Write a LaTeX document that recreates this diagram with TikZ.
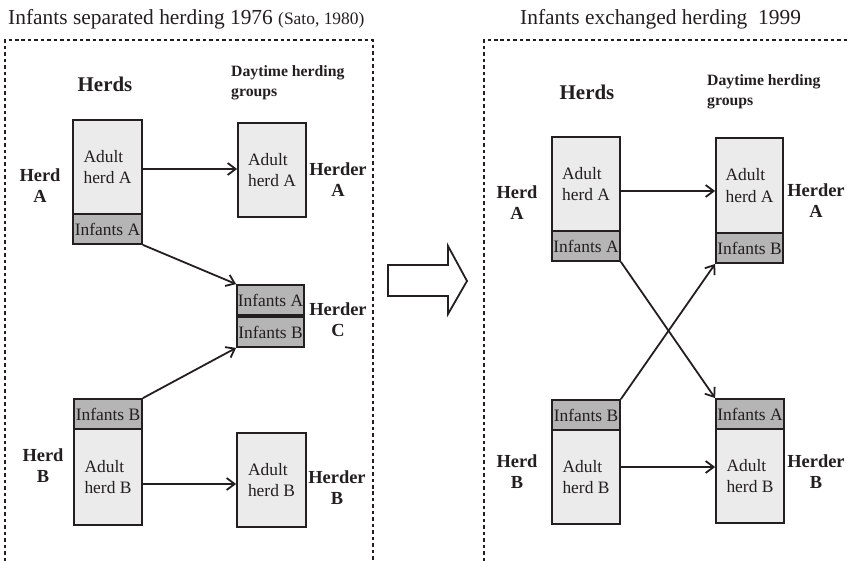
\documentclass[tikz,border=0pt]{standalone}
\usepackage{fontspec}
\setmainfont{Liberation Serif}
\usetikzlibrary{arrows.meta}
\definecolor{ink}{HTML}{231F20}
\definecolor{adultfill}{HTML}{EBEBEB}
\definecolor{infantfill}{HTML}{B5B5B5}
\tikzset{
  box/.style={draw=ink, line width=1.8pt, inner sep=0pt, font=\fontsize{17.5}{21.5}\selectfont, text=ink, align=left},
  adult/.style={box, fill=adultfill},
  infant/.style={box, fill=infantfill},
  lbl/.style={font=\bfseries\fontsize{18.5}{21}\selectfont, align=center, text=ink},
  head/.style={font=\bfseries\fontsize{21}{24}\selectfont, text=ink},
  grp/.style={font=\bfseries\fontsize{15.8}{20}\selectfont, align=left, text=ink, anchor=west, inner sep=0pt},
  ttl/.style={font=\fontsize{21.5}{24}\selectfont, text=ink, anchor=base west, inner sep=0pt},
  flow/.style={draw=ink, line width=1.8pt, -{Straight Barb[length=8pt,width=12pt,line width=1.8pt]}},
  frame/.style={draw=ink, line width=1.8pt, dash pattern=on 3.5pt off 3pt}
}
\begin{document}
\begin{tikzpicture}[x=1bp, y=-1bp]
\useasboundingbox (0,0) rectangle (848,561);

% ---------- titles ----------
\node[ttl] (t1) at (8,25) {Infants separated herding 1976 {\fontsize{17.5}{20}\selectfont (Sato, 1980)}};
\node[ttl] (t2) at (520,25) {Infants exchanged herding\ \ 1999};

% ---------- frames ----------
\draw[frame] (5,561) -- (5,40) -- (373,40) -- (373,561);
\draw[frame] (484,561) -- (484,40) -- (848,40);

% ---------- left panel ----------
\node[head] (h1) at (105,84) {Herds};
\node[grp] (g1) at (231,83) {Daytime herding\\groups};

\node[adult, minimum width=69bp, minimum height=94bp] (aA) at (107.5,167) {Adult\\herd A};
\node[infant, minimum width=69bp, minimum height=30bp] (iA) at (107.5,229) {Infants A};
\node[adult, minimum width=68bp, minimum height=94bp] (cA) at (272,170) {Adult\\herd A};
\node[infant, minimum width=67bp, minimum height=30bp] (ciA) at (270.5,300) {Infants A};
\node[infant, minimum width=67bp, minimum height=30bp] (ciB) at (270.5,332) {Infants B};
\node[infant, minimum width=68bp, minimum height=30bp] (iB) at (108,414) {Infants B};
\node[adult, minimum width=68bp, minimum height=96bp] (aB) at (108,477) {Adult\\herd B};
\node[adult, minimum width=69bp, minimum height=94bp] (cB) at (271.5,480) {Adult\\herd B};

\node[lbl] (lA) at (40,186) {Herd\\A};
\node[lbl] (lB) at (43,466) {Herd\\B};
\node[lbl] (rA) at (338,180) {Herder\\A};
\node[lbl] (rC) at (338,320) {Herder\\C};
\node[lbl] (rB) at (337,488) {Herder\\B};

\draw[flow] ([yshift=-2bp]aA.east) -- ([yshift=-2bp]aA.east -| cA.west);
\draw[flow] (iA.south east) -- (ciA.north west);
\draw[flow] (iB.north east) -- (ciB.south west);
\draw[flow] ([yshift=-7bp]aB.east) -- ([yshift=-7bp]aB.east -| cB.west);

% ---------- big hollow arrow ----------
\draw[draw=ink, line width=1.8pt, fill=white, line join=miter]
  (388,265) -- (448,265) -- (448,246) -- (467,281) -- (448,314) -- (448,296) -- (388,296) -- cycle;

% ---------- right panel ----------
\node[head] (h2) at (587,92) {Herds};
\node[grp] (g2) at (707,92) {Daytime herding\\groups};

\node[adult, minimum width=68bp, minimum height=94bp] (rAa) at (586,184) {Adult\\herd A};
\node[infant, minimum width=68bp, minimum height=30bp] (rAi) at (586,246) {Infants A};
\node[adult, minimum width=67bp, minimum height=95bp] (rCa) at (749.5,185.5) {Adult\\herd A};
\node[infant, minimum width=67bp, minimum height=30bp] (rCi) at (749.5,248) {Infants B};
\node[infant, minimum width=68bp, minimum height=30bp] (rBi) at (586,415) {Infants B};
\node[adult, minimum width=68bp, minimum height=94bp] (rBa) at (586,477) {Adult\\herd B};
\node[infant, minimum width=68bp, minimum height=30bp] (rDi) at (750,414) {Infants A};
\node[adult, minimum width=68bp, minimum height=94bp] (rDa) at (750,476) {Adult\\herd B};

\node[lbl] (lA2) at (517,203) {Herd\\A};
\node[lbl] (lB2) at (517,472) {Herd\\B};
\node[lbl] (rA2) at (816,201) {Herder\\A};
\node[lbl] (rB2) at (816,472) {Herder\\B};

\draw[flow] ([yshift=-7bp]rAa.east) -- ([yshift=-7bp]rAa.east -| rCa.west);
\draw[flow] (rAi.south east) -- (rDi.north west);
\draw[flow] (rBi.north east) -- (rCi.south west);
\draw[flow] ([yshift=10bp]rBa.east) -- ([yshift=10bp]rBa.east -| rDa.west);
\end{tikzpicture}
\end{document}
